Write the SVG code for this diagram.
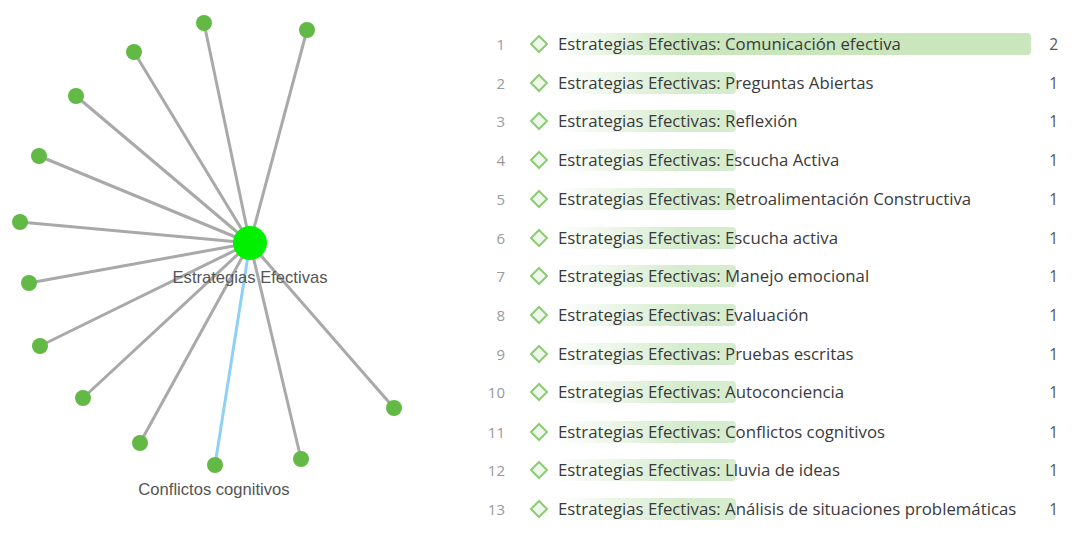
<svg xmlns="http://www.w3.org/2000/svg" width="1078" height="552" viewBox="0 0 1078 552">
<style>
.edge{stroke:#a9a9a9;stroke-width:3;stroke-linecap:round}
.edge.sel{stroke:#8fd0f5}
.leaf{fill:#62b945}
.hub{fill:#00f000}
.glabel{font-family:"Liberation Sans",Arial,sans-serif;font-size:16.6px;fill:#555;text-anchor:middle}
.num{font-family:"Open Sans","Noto Sans",sans-serif;font-size:15px;fill:#9a9a9a;text-anchor:end}
.item{font-family:"Open Sans","Noto Sans",sans-serif;font-size:16.8px;fill:#3a3a3a}
.cnt{font-family:"Open Sans","Noto Sans",sans-serif;font-size:15.5px;fill:#555;text-anchor:end}
.dia{fill:#eef8ea;stroke:#8ccb74;stroke-width:2}
</style>
<defs>
<linearGradient id="bar" x1="555" y1="0" x2="680" y2="0" gradientUnits="userSpaceOnUse">
<stop offset="0" stop-color="#d6ecce" stop-opacity="0"/>
<stop offset="1" stop-color="#d6ecce" stop-opacity="1"/>
</linearGradient>
<linearGradient id="bar1" x1="555" y1="0" x2="680" y2="0" gradientUnits="userSpaceOnUse">
<stop offset="0" stop-color="#c9e6bd" stop-opacity="0"/>
<stop offset="1" stop-color="#c9e6bd" stop-opacity="1"/>
</linearGradient>
<path id="d" d="M0,-8 L8,0 L0,8 L-8,0 Z"/>
</defs>
<rect width="1078" height="552" fill="#ffffff"/>
<g id="connectors">
<line class="edge" x1="250" y1="243" x2="204" y2="23"/>
<line class="edge" x1="250" y1="243" x2="307" y2="30"/>
<line class="edge" x1="250" y1="243" x2="134" y2="52"/>
<line class="edge" x1="250" y1="243" x2="76" y2="96"/>
<line class="edge" x1="250" y1="243" x2="39" y2="156"/>
<line class="edge" x1="250" y1="243" x2="20" y2="222"/>
<line class="edge" x1="250" y1="243" x2="29" y2="283"/>
<line class="edge" x1="250" y1="243" x2="40" y2="346"/>
<line class="edge" x1="250" y1="243" x2="83" y2="398"/>
<line class="edge" x1="250" y1="243" x2="140" y2="443"/>
<line class="edge" x1="250" y1="243" x2="301" y2="459"/>
<line class="edge" x1="250" y1="243" x2="394" y2="408"/>
<line class="edge sel" x1="250" y1="243" x2="215" y2="465"/>
</g>
<g id="n1"><circle class="leaf" cx="204" cy="23" r="8"/></g>
<g id="n2"><circle class="leaf" cx="307" cy="30" r="8"/></g>
<g id="n3"><circle class="leaf" cx="134" cy="52" r="8"/></g>
<g id="n4"><circle class="leaf" cx="76" cy="96" r="8"/></g>
<g id="n5"><circle class="leaf" cx="39" cy="156" r="8"/></g>
<g id="n6"><circle class="leaf" cx="20" cy="222" r="8"/></g>
<g id="n7"><circle class="leaf" cx="29" cy="283" r="8"/></g>
<g id="n8"><circle class="leaf" cx="40" cy="346" r="8"/></g>
<g id="n9"><circle class="leaf" cx="83" cy="398" r="8"/></g>
<g id="n10"><circle class="leaf" cx="140" cy="443" r="8"/></g>
<g id="n11"><circle class="leaf" cx="301" cy="459" r="8"/></g>
<g id="n12"><circle class="leaf" cx="394" cy="408" r="8"/></g>
<g id="n13"><circle class="leaf" cx="215" cy="465" r="8"/><text class="glabel" x="214" y="495">Conflictos cognitivos</text></g>
<g id="hub"><circle class="hub" cx="250" cy="243" r="17"/><text class="glabel" x="250" y="283">Estrategias Efectivas</text></g>
<g id="list">
<rect x="555" y="33" width="476" height="22" rx="4" fill="url(#bar1)"/>
<rect x="555" y="72" width="181" height="22" rx="4" fill="url(#bar)"/>
<rect x="555" y="110" width="181" height="22" rx="4" fill="url(#bar)"/>
<rect x="555" y="149" width="181" height="22" rx="4" fill="url(#bar)"/>
<rect x="555" y="188" width="181" height="22" rx="4" fill="url(#bar)"/>
<rect x="555" y="227" width="181" height="22" rx="4" fill="url(#bar)"/>
<rect x="555" y="265" width="181" height="22" rx="4" fill="url(#bar)"/>
<rect x="555" y="304" width="181" height="22" rx="4" fill="url(#bar)"/>
<rect x="555" y="343" width="181" height="22" rx="4" fill="url(#bar)"/>
<rect x="555" y="381" width="181" height="22" rx="4" fill="url(#bar)"/>
<rect x="555" y="421" width="181" height="22" rx="4" fill="url(#bar)"/>
<rect x="555" y="459" width="181" height="22" rx="4" fill="url(#bar)"/>
<rect x="555" y="498" width="181" height="22" rx="4" fill="url(#bar)"/>
<g id="r1"><text class="num" x="505" y="50">1</text><use href="#d" class="dia" x="539" y="44"/><text class="item" x="558" y="50">Estrategias Efectivas: Comunicación efectiva</text><text class="cnt" x="1058" y="50">2</text></g>
<g id="r2"><text class="num" x="505" y="89">2</text><use href="#d" class="dia" x="539" y="83"/><text class="item" x="558" y="89">Estrategias Efectivas: Preguntas Abiertas</text><text class="cnt" x="1058" y="89">1</text></g>
<g id="r3"><text class="num" x="505" y="127">3</text><use href="#d" class="dia" x="539" y="121"/><text class="item" x="558" y="127">Estrategias Efectivas: Reflexión</text><text class="cnt" x="1058" y="127">1</text></g>
<g id="r4"><text class="num" x="505" y="166">4</text><use href="#d" class="dia" x="539" y="160"/><text class="item" x="558" y="166">Estrategias Efectivas: Escucha Activa</text><text class="cnt" x="1058" y="166">1</text></g>
<g id="r5"><text class="num" x="505" y="205">5</text><use href="#d" class="dia" x="539" y="199"/><text class="item" x="558" y="205">Estrategias Efectivas: Retroalimentación Constructiva</text><text class="cnt" x="1058" y="205">1</text></g>
<g id="r6"><text class="num" x="505" y="244">6</text><use href="#d" class="dia" x="539" y="238"/><text class="item" x="558" y="244">Estrategias Efectivas: Escucha activa</text><text class="cnt" x="1058" y="244">1</text></g>
<g id="r7"><text class="num" x="505" y="282">7</text><use href="#d" class="dia" x="539" y="276"/><text class="item" x="558" y="282">Estrategias Efectivas: Manejo emocional</text><text class="cnt" x="1058" y="282">1</text></g>
<g id="r8"><text class="num" x="505" y="321">8</text><use href="#d" class="dia" x="539" y="315"/><text class="item" x="558" y="321">Estrategias Efectivas: Evaluación</text><text class="cnt" x="1058" y="321">1</text></g>
<g id="r9"><text class="num" x="505" y="360">9</text><use href="#d" class="dia" x="539" y="354"/><text class="item" x="558" y="360">Estrategias Efectivas: Pruebas escritas</text><text class="cnt" x="1058" y="360">1</text></g>
<g id="r10"><text class="num" x="505" y="398">10</text><use href="#d" class="dia" x="539" y="392"/><text class="item" x="558" y="398">Estrategias Efectivas: Autoconciencia</text><text class="cnt" x="1058" y="398">1</text></g>
<g id="r11"><text class="num" x="505" y="438">11</text><use href="#d" class="dia" x="539" y="432"/><text class="item" x="558" y="438">Estrategias Efectivas: Conflictos cognitivos</text><text class="cnt" x="1058" y="438">1</text></g>
<g id="r12"><text class="num" x="505" y="476">12</text><use href="#d" class="dia" x="539" y="470"/><text class="item" x="558" y="476">Estrategias Efectivas: Lluvia de ideas</text><text class="cnt" x="1058" y="476">1</text></g>
<g id="r13"><text class="num" x="505" y="515">13</text><use href="#d" class="dia" x="539" y="509"/><text class="item" x="558" y="515">Estrategias Efectivas: Análisis de situaciones problemáticas</text><text class="cnt" x="1058" y="515">1</text></g>
</g>
</svg>
